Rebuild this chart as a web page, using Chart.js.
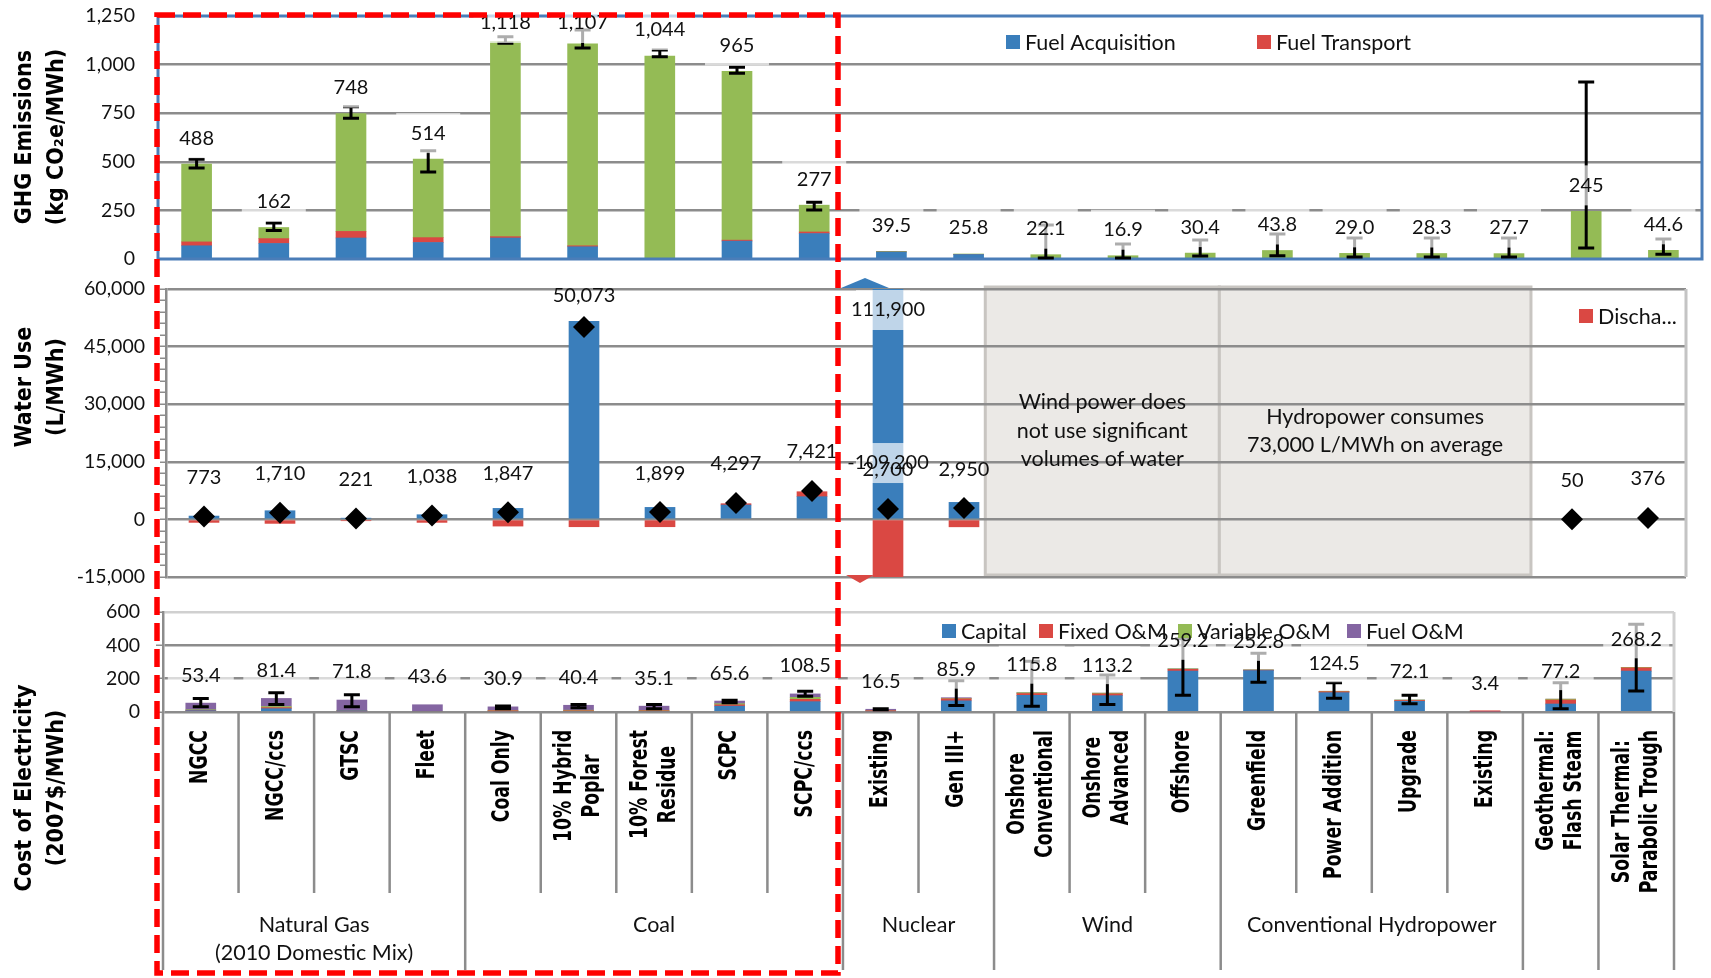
<!DOCTYPE html>
<html>
<head>
<meta charset="utf-8">
<title>Life cycle GHG emissions, water use and cost of electricity</title>
<script src="https://cdn.jsdelivr.net/npm/chart.js@4/dist/chart.umd.min.js"></script>
<style>
  html, body { margin: 0; padding: 0; background: #fff; }
  #wrap { position: relative; width: 1711px; height: 978px; overflow: hidden; background: #fff; }
  #wrap canvas { position: absolute; left: 0; top: 0; }
</style>
</head>
<body>
<div id="wrap">
  <canvas id="ghg" width="1711" height="978"></canvas>
  <canvas id="water" width="1711" height="978"></canvas>
  <canvas id="cost" width="1711" height="978"></canvas>
  <canvas id="frame" width="1711" height="978"></canvas>
</div>
<script>
// ---------------- categories ----------------
const categories = [
  ['NGCC'], ['NGCC/ccs'], ['GTSC'], ['Fleet'],
  ['Coal Only'], ['10% Hybrid', 'Poplar'], ['10% Forest', 'Residue'], ['SCPC'], ['SCPC/ccs'],
  ['Existing'], ['Gen III+'],
  ['Onshore', 'Conventional'], ['Onshore', 'Advanced'], ['Offshore'],
  ['Greenfield'], ['Power Addition'], ['Upgrade'], ['Existing'],
  ['Geothermal:', 'Flash Steam'], ['Solar Thermal:', 'Parabolic Trough']
];
const groupNames = [['Natural Gas', '(2010 Domestic Mix)'], ['Coal'], ['Nuclear'], ['Wind'], ['Conventional Hydropower'], [], []];
const groupSizes = [4, 5, 2, 3, 4, 1, 1];

// ---------------- GHG emissions (kg CO2e/MWh) ----------------
const ghgFuelAcquisition = [68, 80, 108, 85, 108, 63, 0, 92, 131, 36, 23, 0, 0, 0, 0, 0, 0, 0, 0, 0];
const ghgFuelTransport   = [20, 25, 34, 25, 7, 5, 0, 5, 8, 0, 0, 0, 0, 0, 0, 0, 0, 0, 0, 0];
const ghgPlantOperation  = [400, 57, 606, 404, 1003, 1039, 1044, 868, 138, 3.5, 2.8, 22.1, 16.9, 30.4, 43.8, 29.0, 28.3, 27.7, 245, 44.6];
const ghgErrLow  = [468, 146, 724, 447, 1110, 1085, 1041, 955, 252, null, null, 5, 5, 15, 17, 10, 10, 10, 56, 24];
const ghgErrHigh = [513, 185, 783, 557, 1143, 1178, 1075, 986, 292, null, null, 175, 77, 98, 129, 108, 108, 108, 910, 103];
const ghgTicks = [0, 250, 500, 750, 1000, 1250];

// ---------------- Water use (L/MWh) ----------------
const waterWithdrawal  = [870, 2260, 300, 1220, 2870, 51570, 3130, 3740, 5910, 111900, 4435, null, null, null, null, null, null, null, null, null];
const waterDischarge   = [-780, -1040, -350, -780, -1740, -1910, -1910, 350, 1300, -109200, -1930, null, null, null, null, null, null, null, null, null];
const waterConsumption = [773, 1710, 221, 1038, 1847, 50073, 1899, 4297, 7421, 2700, 2950, null, null, null, null, null, null, null, 50, 376];
const waterTicks = [-15000, 0, 15000, 30000, 45000, 60000];

// ---------------- Cost of electricity (2007$/MWh) ----------------
const costCapital  = [8, 20, 6, 0, 0, 0, 0, 35, 62, 0, 67, 100, 98, 246, 248, 116, 64, 0, 48, 245];
const costFixedOM  = [2, 6, 2, 0, 5, 6, 6, 8, 14, 5, 12, 11, 11, 10, 3, 6, 5, 2.4, 24, 20];
const costVarOM    = [3.4, 7, 2, 0, 4, 5, 4, 7, 12, 2, 2, 4.8, 4.2, 3.2, 1.8, 2.5, 3.1, 1, 5.2, 3.2];
const costFuelOM   = [40, 48.4, 61.8, 43.6, 21.9, 29.4, 25.1, 15.6, 20.5, 9.5, 4.9, 0, 0, 0, 0, 0, 0, 0, 0, 0];
const costErrLow   = [32, 45, 32, null, 20, 26, 20, 55, 95, 13, 39, 35, 45, 100, 179, 82, 50, null, 20, 126];
const costErrHigh  = [81, 115, 103, null, 36, 45, 45, 71, 125, 19, 187, 305, 222, 440, 352, 175, 100, null, 176, 526];
const costTicks = [0, 200, 400, 600];

// ---------------- shared styling ----------------
const COLORS = { blue: '#3a7ebb', red: '#da4843', green: '#94bb55', purple: '#8465a2' };
const GRID = '#8c8c8c';
const NUM_FONT = 'Lato, "Open Sans", sans-serif';
const CAT_FONT = '"DejaVu Sans", Verdana, sans-serif';
const LABEL_SIZE = 20;
const categoryNames = categories.map(c => c.join(' '));

const fmtInt = v => Math.round(v).toLocaleString('en-US');
const fmtGhg = v => (v >= 100 ? fmtInt(v) : v.toFixed(1));
const sumAt = (arrays, i) => arrays.reduce((s, a) => s + (a[i] || 0), 0);

function drawLabelBox(ctx, x, y, w, h) {
  ctx.save();
  ctx.fillStyle = 'rgba(255,255,255,0.68)';
  ctx.fillRect(x - w / 2, y - h / 2, w, h);
  ctx.restore();
}
function drawLabelText(ctx, text, x, y) {
  ctx.save();
  ctx.fillStyle = '#111';
  ctx.font = LABEL_SIZE + 'px ' + NUM_FONT;
  ctx.textAlign = 'center';
  ctx.textBaseline = 'middle';
  ctx.fillText(text, x, y);
  ctx.restore();
}
function drawBoxLabel(ctx, text, x, y, w, h) {
  drawLabelBox(ctx, x, y, w, h);
  drawLabelText(ctx, text, x, y);
}

function drawErrorBars(chart, low, high) {
  const { ctx, scales: { x, y } } = chart;
  ctx.save();
  ctx.strokeStyle = '#000';
  ctx.lineWidth = 3;
  low.forEach((lo, i) => {
    const hi = high[i];
    if (lo == null || hi == null) return;
    const px = x.getPixelForValue(i);
    const y1 = y.getPixelForValue(hi), y2 = y.getPixelForValue(lo);
    ctx.beginPath();
    ctx.moveTo(px, y1); ctx.lineTo(px, y2);
    ctx.moveTo(px - 8, y1); ctx.lineTo(px + 8, y1);
    ctx.moveTo(px - 8, y2); ctx.lineTo(px + 8, y2);
    ctx.stroke();
  });
  ctx.restore();
}

function drawAxisTitle(ctx, lines, cy) {
  const xs = [25, 57];
  ctx.save();
  ctx.font = 'bold 23px ' + CAT_FONT;
  ctx.fillStyle = '#000';
  ctx.textAlign = 'center';
  ctx.textBaseline = 'middle';
  lines.forEach((t, j) => {
    ctx.save();
    ctx.translate(xs[j], cy);
    ctx.rotate(-Math.PI / 2);
    ctx.scale(0.9, 1);
    ctx.fillText(t, 0, 0);
    ctx.restore();
  });
  ctx.restore();
}

function fitText(ctx, text, maxW) {
  if (ctx.measureText(text).width <= maxW) return text;
  let t = text;
  while (t.length > 1 && ctx.measureText(t + '...').width > maxW) t = t.slice(0, -1);
  return t + '...';
}

function drawLegend(ctx, items, xs, yc, maxW) {
  ctx.save();
  ctx.font = '21.5px ' + NUM_FONT;
  ctx.textAlign = 'left';
  ctx.textBaseline = 'middle';
  items.forEach((it, k) => {
    const x = xs[k];
    ctx.fillStyle = it.color;
    ctx.fillRect(x, yc - 7, 14, 14);
    ctx.fillStyle = '#111';
    ctx.fillText(maxW ? fitText(ctx, it.text, maxW) : it.text, x + 19, yc + 1);
  });
  ctx.restore();
}

const tickFont = { family: NUM_FONT, size: 19.5 };
const baseOptions = {
  responsive: false,
  animation: false,
  events: [],
  plugins: { legend: { display: false }, tooltip: { enabled: false } }
};

// ================= Panel 1: GHG emissions =================
new Chart(document.getElementById('ghg'), {
  type: 'bar',
  data: {
    labels: categoryNames,
    datasets: [
      { label: 'Fuel Acquisition', data: ghgFuelAcquisition, backgroundColor: COLORS.blue },
      { label: 'Fuel Transport', data: ghgFuelTransport, backgroundColor: COLORS.red },
      { label: 'Plant Operation', data: ghgPlantOperation, backgroundColor: COLORS.green }
    ]
  },
  options: {
    ...baseOptions,
    layout: { padding: { left: 0, top: 16, right: 9, bottom: 719 } },
    datasets: { bar: { barThickness: 30, borderWidth: 0 } },
    scales: {
      x: { stacked: true, display: false },
      y: {
        stacked: true, min: ghgTicks[0], max: ghgTicks[ghgTicks.length - 1],
        afterBuildTicks: s => { s.ticks = ghgTicks.map(v => ({ value: v })); },
        afterFit: s => { s.width = 158; },
        ticks: { padding: 3, color: '#111', font: tickFont, callback: v => v.toLocaleString('en-US') },
        grid: {
          color: c => (c.tick.value === ghgTicks[0] || c.tick.value === ghgTicks[ghgTicks.length - 1]) ? 'rgba(0,0,0,0)' : GRID,
          lineWidth: 2.5, drawTicks: true, tickLength: 20, tickColor: 'rgba(0,0,0,0)'
        },
        border: { display: false }
      }
    }
  },
  plugins: [{
    id: 'ghgExtras',
    afterDatasetsDraw(chart) {
      const { ctx, chartArea: a, scales: { x, y } } = chart;
      ctx.save();
      ctx.strokeStyle = '#4a7db8';
      ctx.lineWidth = 3;
      ctx.strokeRect(a.left, a.top, a.right - a.left, a.bottom - a.top);
      ctx.restore();
      drawErrorBars(chart, ghgErrLow, ghgErrHigh);
      drawLegend(ctx, [
        { text: chart.data.datasets[0].label, color: COLORS.blue },
        { text: chart.data.datasets[1].label, color: COLORS.red }
      ], [1006, 1257], 42);
      categories.forEach((_, i) => {
        const total = sumAt([ghgFuelAcquisition, ghgFuelTransport, ghgPlantOperation], i);
        const py = Math.max(y.getPixelForValue(total) - 26, a.top + 7);
        drawBoxLabel(ctx, fmtGhg(total), x.getPixelForValue(i), py, 64, 40);
      });
    },
    afterDraw(chart) {
      drawAxisTitle(chart.ctx, ['GHG Emissions', '(kg CO\u2082e/MWh)'], 137);
    }
  }]
});

// ================= Panel 2: Water use =================
const waterNotes = [
  { from: 10.28, to: 13.36, lines: ['Wind power does', 'not use significant', 'volumes of water'] },
  { from: 13.36, to: 17.46, lines: ['Hydropower consumes', '73,000 L/MWh on average'] }
];

new Chart(document.getElementById('water'), {
  type: 'bar',
  data: {
    labels: categoryNames,
    datasets: [
      { type: 'line', label: 'Consumption', data: waterConsumption, stack: 'cons', showLine: false,
        pointStyle: 'rectRot', pointRadius: 11, backgroundColor: '#000', borderColor: '#000', borderWidth: 0, order: 0 },
      { label: 'Withdrawal', data: waterWithdrawal, stack: 'water', backgroundColor: COLORS.blue, order: 1 },
      { label: 'Discharge', data: waterDischarge, stack: 'water', backgroundColor: COLORS.red, order: 1 }
    ]
  },
  options: {
    ...baseOptions,
    layout: { padding: { left: 0, top: 289, right: 25, bottom: 401 } },
    datasets: { bar: { barThickness: 30, borderWidth: 0 } },
    scales: {
      x: { stacked: true, display: false },
      y: {
        stacked: true, min: waterTicks[0], max: waterTicks[waterTicks.length - 1],
        afterFit: s => { s.width = 166; },
        ticks: {
          stepSize: 3000, autoSkip: false, padding: 15, color: '#111', font: tickFont,
          callback: v => (waterTicks.includes(v) ? v.toLocaleString('en-US') : '')
        },
        grid: {
          color: c => (waterTicks.includes(c.tick.value) ? GRID : 'rgba(0,0,0,0)'),
          tickColor: GRID, tickLength: 6, tickWidth: 1.5, lineWidth: 2.5
        },
        border: { display: true, color: GRID, width: 2.5 }
      }
    }
  },
  plugins: [{
    id: 'waterExtras',
    beforeDraw(chart) {
      const { ctx, chartArea: a, scales: { x } } = chart;
      ctx.save();
      waterNotes.forEach(n => {
        const x1 = x.getPixelForValue(n.from), x2 = x.getPixelForValue(n.to);
        ctx.fillStyle = '#ebe9e6';
        ctx.fillRect(x1, a.top - 2, x2 - x1, a.bottom - a.top);
        ctx.strokeStyle = '#c8c5c1';
        ctx.lineWidth = 3;
        ctx.strokeRect(x1, a.top - 2, x2 - x1, a.bottom - a.top);
      });
      ctx.restore();
    },
    afterDatasetsDraw(chart) {
      const { ctx, chartArea: a, scales: { x, y } } = chart;
      // right border of the plot area
      ctx.save();
      ctx.strokeStyle = '#c4c4c4';
      ctx.lineWidth = 3;
      ctx.beginPath();
      ctx.moveTo(a.right, a.top); ctx.lineTo(a.right, a.bottom);
      ctx.stroke();
      ctx.restore();

      // notes inside the grey boxes
      ctx.save();
      ctx.font = '21.5px ' + NUM_FONT;
      ctx.fillStyle = '#111';
      ctx.textAlign = 'center';
      ctx.textBaseline = 'middle';
      waterNotes.forEach(n => {
        const cx = (x.getPixelForValue(n.from) + x.getPixelForValue(n.to)) / 2;
        const cy = (a.top + a.bottom) / 2 - 2;
        n.lines.forEach((t, j) => ctx.fillText(t, cx, cy + (j - (n.lines.length - 1) / 2) * 28.5));
      });
      ctx.restore();

      // markers for bars running past the axis range
      const wMeta = chart.getDatasetMeta(1), dMeta = chart.getDatasetMeta(2);
      ctx.save();
      waterWithdrawal.forEach((v, i) => {
        if (v == null || v <= y.max) return;
        const bx = wMeta.data[i].x - 23;
        ctx.fillStyle = COLORS.blue;
        ctx.beginPath();
        ctx.moveTo(bx - 24, a.top - 1); ctx.lineTo(bx, a.top - 11); ctx.lineTo(bx + 24, a.top - 1);
        ctx.closePath(); ctx.fill();
      });
      waterDischarge.forEach((v, i) => {
        if (v == null || v >= y.min) return;
        const bx = dMeta.data[i].x - 28;
        ctx.fillStyle = COLORS.red;
        ctx.beginPath();
        ctx.moveTo(bx - 14, a.bottom - 2); ctx.lineTo(bx, a.bottom + 6); ctx.lineTo(bx + 14, a.bottom - 2);
        ctx.closePath(); ctx.fill();
      });
      ctx.restore();

      drawLegend(ctx, [{ text: chart.data.datasets[2].label, color: COLORS.red }], [1579], 316, 80);

      // value labels: clipped bars carry a label box, consumption labels do not
      categories.forEach((_, i) => {
        const px = x.getPixelForValue(i);
        const c = waterConsumption[i];
        const consY = c == null ? null : Math.max(y.getPixelForValue(c) - 39, a.top + 7);
        if (waterWithdrawal[i] != null && waterWithdrawal[i] > y.max) {
          drawBoxLabel(ctx, fmtInt(waterWithdrawal[i]), px, a.top + 21, 64, 40);
        }
        if (waterDischarge[i] != null && waterDischarge[i] < y.min && consY != null) {
          drawBoxLabel(ctx, fmtInt(waterDischarge[i]), px, consY - 7, 64, 40);
        }
        if (c != null) drawLabelText(ctx, fmtInt(c), px, consY);
      });
    },
    afterDraw(chart) {
      drawAxisTitle(chart.ctx, ['Water Use', '(L/MWh)'], 387);
    }
  }]
});

// ================= Panel 3: Cost of electricity =================
new Chart(document.getElementById('cost'), {
  type: 'bar',
  data: {
    labels: categoryNames,
    datasets: [
      { label: 'Capital', data: costCapital, backgroundColor: COLORS.blue },
      { label: 'Fixed O&M', data: costFixedOM, backgroundColor: COLORS.red },
      { label: 'Variable O&M', data: costVarOM, backgroundColor: COLORS.green },
      { label: 'Fuel O&M', data: costFuelOM, backgroundColor: COLORS.purple }
    ]
  },
  options: {
    ...baseOptions,
    layout: { padding: { left: 0, top: 612, right: 37, bottom: 266 } },
    datasets: { bar: { barThickness: 30, borderWidth: 0 } },
    scales: {
      x: { stacked: true, display: false },
      y: {
        stacked: true, min: costTicks[0], max: costTicks[costTicks.length - 1],
        afterBuildTicks: s => { s.ticks = costTicks.map(v => ({ value: v })); },
        afterFit: s => { s.width = 163; },
        ticks: { padding: 16, color: '#111', font: tickFont, callback: v => v.toLocaleString('en-US') },
        grid: {
          color: c => (c.tick.value === costTicks[costTicks.length - 1] ? '#d0d0d0' : GRID),
          tickColor: GRID, tickLength: 7, tickWidth: 1.5, lineWidth: 2.5
        },
        border: { display: true, color: GRID, width: 2.5 }
      }
    }
  },
  plugins: [{
    id: 'costExtras',
    afterDatasetsDraw(chart) {
      const { ctx, chartArea: a, scales: { x, y } } = chart;
      ctx.save();
      ctx.strokeStyle = '#d0d0d0';
      ctx.lineWidth = 3;
      ctx.beginPath();
      ctx.moveTo(a.right, a.top); ctx.lineTo(a.right, a.bottom);
      ctx.stroke();
      ctx.restore();

      drawErrorBars(chart, costErrLow, costErrHigh);
      const labelPos = categories.map((_, i) => {
        const total = sumAt([costCapital, costFixedOM, costVarOM, costFuelOM], i);
        return { total, x: x.getPixelForValue(i), y: y.getPixelForValue(total) - 28 };
      });
      labelPos.forEach(p => drawLabelBox(ctx, p.x, p.y, 66, 38));
      drawLegend(ctx, chart.data.datasets.map(d => ({ text: d.label, color: d.backgroundColor })),
        [942, 1039, 1178, 1347], 631);
      labelPos.forEach(p => drawLabelText(ctx, p.total.toFixed(1), p.x, p.y));
    },
    afterDraw(chart) {
      const { ctx, chartArea: a, scales: { x } } = chart;
      const catW = x.getPixelForValue(1) - x.getPixelForValue(0);
      const shortBottom = 893, longBottom = 970;

      // category separators and group separators
      const groupEnds = [];
      groupSizes.reduce((acc, n) => { groupEnds.push(acc + n); return acc + n; }, 0);
      ctx.save();
      ctx.strokeStyle = GRID;
      ctx.lineWidth = 2.5;
      ctx.beginPath();
      for (let b = 0; b <= categories.length; b++) {
        const bx = x.getPixelForValue(0) - catW / 2 + b * catW;
        const isGroupEdge = b === 0 || groupEnds.includes(b);
        ctx.moveTo(bx, a.bottom);
        ctx.lineTo(bx, isGroupEdge ? longBottom : shortBottom);
      }
      ctx.stroke();
      ctx.restore();

      // rotated category labels
      ctx.save();
      ctx.font = 'bold 25px ' + CAT_FONT;
      ctx.fillStyle = '#000';
      ctx.textAlign = 'center';
      ctx.textBaseline = 'middle';
      categories.forEach((lines, i) => {
        const maxW = Math.max(...lines.map(t => ctx.measureText(t).width));
        ctx.save();
        ctx.translate(x.getPixelForValue(i), a.bottom + 18);
        ctx.rotate(-Math.PI / 2);
        ctx.scale(0.69, 1);
        lines.forEach((t, j) => ctx.fillText(t, -maxW / 2, (j - (lines.length - 1) / 2) * 28));
        ctx.restore();
      });
      ctx.restore();

      // group labels
      ctx.save();
      ctx.font = '21.5px ' + NUM_FONT;
      ctx.fillStyle = '#111';
      ctx.textAlign = 'center';
      ctx.textBaseline = 'middle';
      let start = 0;
      groupNames.forEach((lines, g) => {
        const end = start + groupSizes[g] - 1;
        const cx = (x.getPixelForValue(start) + x.getPixelForValue(end)) / 2;
        lines.forEach((t, j) => ctx.fillText(t, cx, 925 + j * 28));
        start = end + 1;
      });
      ctx.restore();

      drawAxisTitle(ctx, ['Cost of Electricity', '(2007$/MWh)'], 788);
    }
  }]
});

// ================= dashed highlight around the fossil technologies =================
(function () {
  const ctx = document.getElementById('frame').getContext('2d');
  ctx.strokeStyle = '#ff0000';
  ctx.lineWidth = 5.5;
  ctx.setLineDash([18, 8]);
  ctx.strokeRect(157, 15, 838 - 157, 973 - 15);
})();
</script>
</body>
</html>
